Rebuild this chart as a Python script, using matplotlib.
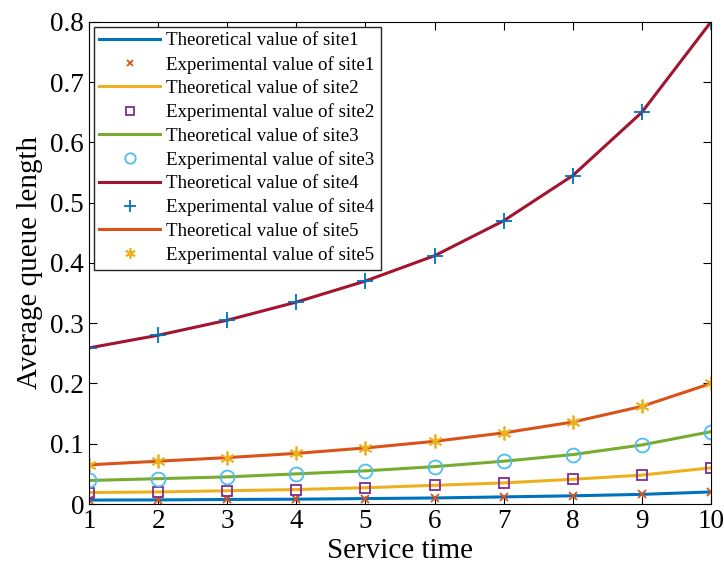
import matplotlib
matplotlib.use('Agg')
import matplotlib.pyplot as plt
from matplotlib.ticker import FuncFormatter

plt.rcParams['font.family'] = ['Liberation Serif', 'DejaVu Serif']

service_time = [1, 2, 3, 4, 5, 6, 7, 8, 9, 10]

# average queue length per site
site1 = [0.0065, 0.0068, 0.0075, 0.008, 0.009, 0.010, 0.0118, 0.0136, 0.016, 0.020]
site2 = [0.019, 0.020, 0.022, 0.024, 0.027, 0.031, 0.035, 0.041, 0.048, 0.060]
site3 = [0.039, 0.042, 0.045, 0.050, 0.055, 0.062, 0.071, 0.082, 0.098, 0.120]
site4 = [0.259, 0.280, 0.305, 0.335, 0.370, 0.412, 0.470, 0.545, 0.650, 0.800]
site5 = [0.065, 0.071, 0.077, 0.084, 0.093, 0.104, 0.118, 0.136, 0.162, 0.200]

sites = [site1, site2, site3, site4, site5]
line_colors = ['#0072BD', '#EDB120', '#77AC30', '#A2142F', '#D95319']
marker_colors = ['#D95319', '#7E2F8E', '#4DBEEE', '#0072BD', '#EDB120']
markers = ['x', 's', 'o', '+', (6, 2, 0)]
marker_sizes = [6, 7.5, 10, 11, 10]

fig = plt.figure(figsize=(7.24, 5.76), dpi=100)
ax = fig.add_axes([0.1230, 0.125, 0.859, 0.837])

for i, vals in enumerate(sites):
    ax.plot(service_time, vals, color=line_colors[i], linewidth=2.2,
            label=f"Theoretical value of site{i + 1}")
    ax.plot(service_time, vals, linestyle='none', marker=markers[i],
            markersize=marker_sizes[i], markerfacecolor='none',
            markeredgecolor=marker_colors[i], markeredgewidth=1.3,
            label=f"Experimental value of site{i + 1}")

ax.set_xlim(1, 10)
ax.set_ylim(0, 0.8)
ax.set_xticks(service_time)
ax.set_yticks([0, 0.1, 0.2, 0.3, 0.4, 0.5, 0.6, 0.7, 0.8])
ax.yaxis.set_major_formatter(FuncFormatter(lambda v, p: '0' if v == 0 else f"{v:.1f}"))
ax.tick_params(direction='in', top=True, right=True, labelsize=19.5, length=6, width=0.8)
ax.set_xlabel("Service time", fontsize=21, labelpad=3)
ax.set_ylabel("Average queue length", fontsize=21, labelpad=5)
for s in ax.spines.values():
    s.set_linewidth(0.8)

ax.legend(loc='upper left', fontsize=13.6, frameon=True, fancybox=False,
          edgecolor='#262626', framealpha=1, handlelength=3.2,
          borderaxespad=0.25, labelspacing=0.33, handletextpad=0.35,
          borderpad=0.3, markerscale=0.75)

fig.savefig("out.png", dpi=100)
